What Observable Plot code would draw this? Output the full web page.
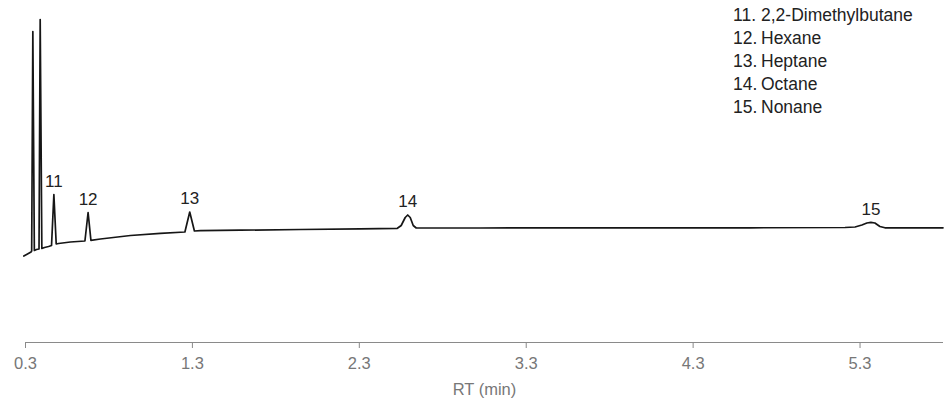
<!DOCTYPE html>
<html><head><meta charset="utf-8">
<script src="https://cdn.jsdelivr.net/npm/d3@7"></script>
<script src="https://cdn.jsdelivr.net/npm/@observablehq/plot@0.6"></script>
<style>
html,body{margin:0;padding:0;background:#fff;}
#wrap{position:relative;width:951px;height:402px;font-family:"Liberation Sans",Arial,sans-serif;}
#legend{position:absolute;left:733px;top:4px;font-size:17.5px;color:#222;line-height:23px;white-space:nowrap;}
#legend .n{display:inline-block;width:28px;}
#chart{position:absolute;left:0;top:0;}
</style></head><body>
<div id="wrap"><div id="chart"></div><div id="legend"></div></div>
<script>
// Retention time (min) of the trace points
const rt = [0.290,0.312,0.333,0.337,0.344,0.353,0.366,0.381,0.388,0.398,0.414,0.438,0.456,0.470,0.484,0.498,0.569,0.656,0.675,0.692,0.749,0.929,1.108,1.255,1.284,1.312,1.348,1.587,1.947,2.306,2.528,2.551,2.575,2.590,2.605,2.623,2.641,3.025,3.743,4.641,5.210,5.270,5.311,5.341,5.365,5.389,5.419,5.449,5.797];
// Detector signal (arbitrary units)
const signal = [86.5,88.5,90.5,91.5,311,92,93,93.5,323,94,95,96,97,148,98.5,99,100.5,101.5,130,102.2,103.5,107,109.2,110.5,130.5,111.5,111.8,112.3,113,113.7,114.2,117,125,127.5,125,117,114.5,114.5,114.7,114.7,115,115.5,117.5,119.5,120.2,119.5,116,114.7,114.7];
// Labelled peaks
const peakIds = ["11","12","13","14","15"];
const peakNames = ["2,2-Dimethylbutane","Hexane","Heptane","Octane","Nonane"];
const peakRT = [0.470,0.675,1.284,2.590,5.365];
const peakApex = [148,130,130.5,127.5,120.2];
// Axis
const xTicks = [0.3,1.3,2.3,3.3,4.3,5.3];
const xLabel = "RT (min)";

const trace = rt.map((t,i)=>({rt:t, s:signal[i]}));
const peaks = peakIds.map((id,i)=>({id, rt:peakRT[i], s:peakApex[i]}));

const chart = Plot.plot({
  width:951, height:402, marginTop:18, marginBottom:60, marginLeft:25, marginRight:8,
  style:{fontFamily:"'Liberation Sans', Arial, sans-serif", background:"#fff", overflow:"visible"},
  x:{domain:[0.3,5.8]},
  y:{domain:[0,324], axis:null},
  marks:[
    Plot.ruleY([0], {stroke:"#8a8a8a", strokeWidth:1.2}),
    Plot.axisX({ticks:xTicks, tickFormat:d=>d.toFixed(1), tickSize:6, tickPadding:9, stroke:"#8a8a8a", fill:"#777", fontSize:16.5, label:xLabel, labelAnchor:"center", labelOffset:52, labelArrow:"none"}),
    Plot.line(trace, {x:"rt", y:"s", stroke:"#161616", strokeWidth:1.7}),
    Plot.text(peaks, {x:"rt", y:"s", text:"id", dy:-13, fontSize:17, fill:"#222"})
  ]
});
document.getElementById("chart").appendChild(chart);

const leg = document.getElementById("legend");
peakIds.forEach((id,i)=>{
  const row = document.createElement("div");
  const n = document.createElement("span"); n.className="n"; n.textContent = id + ".";
  const t = document.createElement("span"); t.textContent = peakNames[i];
  row.appendChild(n); row.appendChild(t); leg.appendChild(row);
});
</script>
</body></html>
